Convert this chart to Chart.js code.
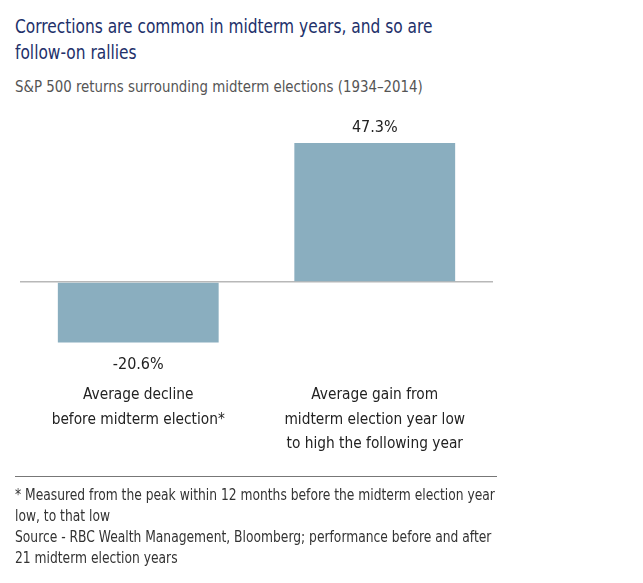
<!DOCTYPE html>
<html><head><meta charset="utf-8">
<script src="https://cdn.jsdelivr.net/npm/chart.js@4"></script>
<style>
html,body{margin:0;padding:0;background:#fff;}
body{width:643px;height:583px;position:relative;overflow:hidden;font-family:"DejaVu Sans Condensed","Liberation Sans Narrow","Open Sans",sans-serif;}
#title{position:absolute;left:15px;top:14px;font-size:19.5px;line-height:26px;color:#22306a;white-space:nowrap;transform:scaleX(0.879);transform-origin:0 0;}
#sub{position:absolute;left:15px;top:77px;font-size:16.5px;line-height:20px;color:#555;white-space:nowrap;transform:scaleX(0.90);transform-origin:0 0;}
#c{position:absolute;left:0;top:0;}
#rule{position:absolute;left:15px;top:476px;width:482px;height:0;border-top:1.5px solid #777;}
#foot{position:absolute;left:15px;top:485px;font-size:15px;line-height:21px;color:#333;white-space:nowrap;transform:scaleX(0.912);transform-origin:0 0;}
</style>
</head><body>
<div id="title">Corrections are common in midterm years, and so are<br>follow-on rallies</div>
<div id="sub">S&amp;P 500 returns surrounding midterm elections (1934–2014)</div>
<canvas id="c" width="643" height="583"></canvas>
<div id="rule"></div>
<div id="foot">* Measured from the peak within 12 months before the midterm election year<br>low, to that low<br>Source - RBC Wealth Management, Bloomberg; performance before and after<br>21 midterm election years</div>
<script>
const categories = [
  ["Average decline", "before midterm election*"],
  ["Average gain from", "midterm election year low", "to high the following year"]
];
const values = [-20.6, 47.3];
const valueLabels = ["-20.6%", "47.3%"];

const FONT = '"DejaVu Sans Condensed","Liberation Sans Narrow","Open Sans",sans-serif';

const valueLabelPlugin = {
  id: 'valueLabels',
  afterDatasetsDraw(chart) {
    const ctx = chart.ctx;
    const meta = chart.getDatasetMeta(0);
    ctx.save();
    ctx.font = '16px ' + FONT;
    ctx.fillStyle = '#222';
    ctx.textAlign = 'center';
    ctx.textBaseline = 'middle';
    meta.data.forEach((bar, i) => {
      const v = values[i];
      const y = v >= 0 ? bar.y - 15 : bar.y + 22;
      ctx.fillText(valueLabels[i], bar.x, y);
    });
    ctx.restore();
  }
};

new Chart(document.getElementById('c'), {
  type: 'bar',
  data: {
    labels: categories,
    datasets: [{
      data: values,
      backgroundColor: '#8aaebf',
      borderWidth: 0,
      barPercentage: 0.68,
      categoryPercentage: 1.0
    }]
  },
  options: {
    responsive: false,
    animation: false,
    events: [],
    layout: { padding: { left: 20, right: 150, top: 135, bottom: 107.5 } },
    plugins: { legend: { display: false }, tooltip: { enabled: false } },
    scales: {
      x: {
        grid: { display: false },
        border: { display: false },
        ticks: {
          color: '#222',
          font: { size: 15.3, family: FONT, lineHeight: 1.57 },
          padding: 20,
          maxRotation: 0,
          autoSkip: false
        },
        afterFit(scale) { scale.height = 120; }
      },
      y: {
        min: -25, max: 50,
        ticks: { display: false, stepSize: 25 },
        border: { display: false },
        grid: {
          drawTicks: false,
          lineWidth: 1.5,
          color: (c) => (c.tick && c.tick.value === 0) ? '#b8b8b8' : 'rgba(0,0,0,0)'
        },
        afterFit(scale) { scale.width = 0; }
      }
    }
  },
  plugins: [valueLabelPlugin]
});
</script>
</body></html>
